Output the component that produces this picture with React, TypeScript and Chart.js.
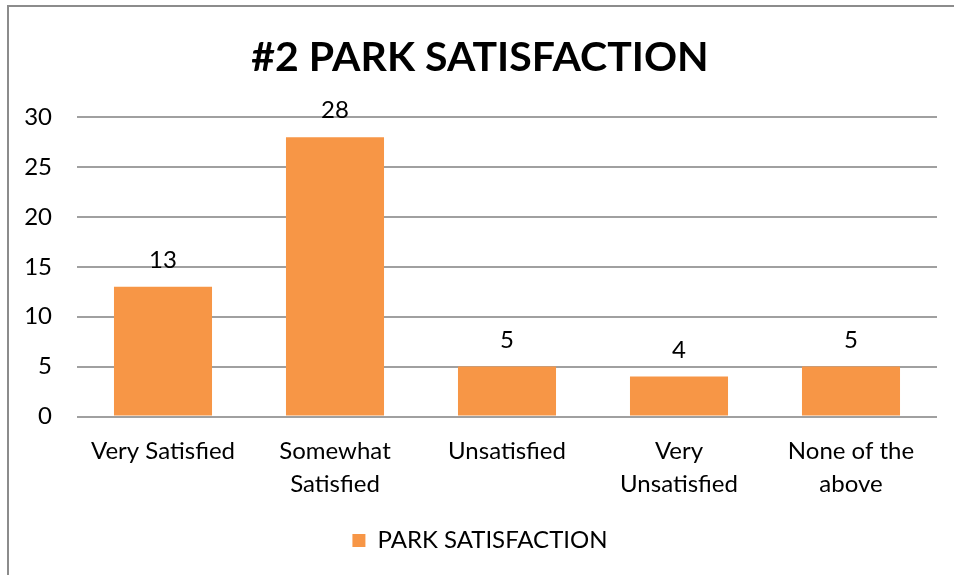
import React, { useEffect, useRef } from "react";
import { Chart, registerables } from "chart.js";

Chart.register(...registerables);

const TITLE = "#2 PARK SATISFACTION";
const SERIES_NAME = "PARK SATISFACTION";
const CATEGORIES: string[][] = [
  ["Very Satisfied"],
  ["Somewhat", "Satisfied"],
  ["Unsatisfied"],
  ["Very", "Unsatisfied"],
  ["None of the", "above"],
];
const VALUES: number[] = [13, 28, 5, 4, 5];
const Y_MIN = 0;
const Y_MAX = 30;
const Y_STEP = 5;

const FONT = "Lato, 'Open Sans', sans-serif";
const BAR_COLOR = "#F79646";
const GRID_COLOR = "#a0a0a0";

const dataLabels = {
  id: "dataLabels",
  afterDatasetsDraw(chart: any) {
    const ctx = chart.ctx;
    ctx.save();
    ctx.font = `24px ${FONT}`;
    ctx.fillStyle = "#000";
    ctx.textAlign = "center";
    ctx.textBaseline = "alphabetic";
    chart.data.datasets.forEach((ds: any, di: number) => {
      const meta = chart.getDatasetMeta(di);
      meta.data.forEach((bar: any, i: number) => {
        ctx.fillText(String(ds.data[i]), bar.x, bar.y - 19);
      });
    });
    ctx.restore();
  },
};

export default function App() {
  const ref = useRef<HTMLCanvasElement | null>(null);
  useEffect(() => {
    if (!ref.current) return;
    const chart = new Chart(ref.current, {
      type: "bar",
      data: {
        labels: CATEGORIES,
        datasets: [
          {
            label: SERIES_NAME,
            data: VALUES,
            backgroundColor: BAR_COLOR,
            borderWidth: 0,
            barPercentage: 0.57,
            categoryPercentage: 1,
          },
        ],
      },
      options: {
        responsive: false,
        animation: false,
        layout: { padding: { left: 23, right: 17, top: 0, bottom: 12.5 } },
        plugins: {
          title: {
            display: true,
            text: TITLE,
            color: "#000",
            font: { family: FONT, size: 41, weight: "bold", lineHeight: 1.2 },
            padding: { top: 33, bottom: 35 },
          },
          legend: {
            display: true,
            position: "bottom",
            labels: {
              color: "#000",
              boxWidth: 13,
              boxHeight: 13,
              font: { family: FONT, size: 24 },
              padding: 18,
            },
          },
          tooltip: { enabled: false },
        },
        scales: {
          x: {
            grid: { display: false },
            border: { display: false },
            ticks: {
              color: "#000",
              font: { family: FONT, size: 24, lineHeight: 1.375 },
              padding: 10,
              maxRotation: 0,
              autoSkip: false,
            },
          },
          y: {
            min: Y_MIN,
            max: Y_MAX,
            afterFit: (s: any) => {
              s.width = 54;
            },
            grid: { color: GRID_COLOR, lineWidth: 2, drawTicks: false },
            border: { display: false },
            ticks: {
              stepSize: Y_STEP,
              color: "#000",
              font: { family: FONT, size: 24 },
              padding: 25,
            },
          },
        },
      },
      plugins: [dataLabels],
    });
    return () => chart.destroy();
  }, []);
  return (
    <div style={{ position: "fixed", left: 0, top: 0, width: 954, height: 575, overflow: "hidden", background: "#fff" }}>
      <div
        style={{
          position: "absolute",
          left: 7,
          top: 5,
          width: 2000,
          height: 2000,
          borderLeft: "2px solid #8c8c8c",
          borderTop: "2px solid #8c8c8c",
        }}
      />
      <canvas ref={ref} width={954} height={575} style={{ position: "absolute", left: 0, top: 0 }} />
    </div>
  );
}
